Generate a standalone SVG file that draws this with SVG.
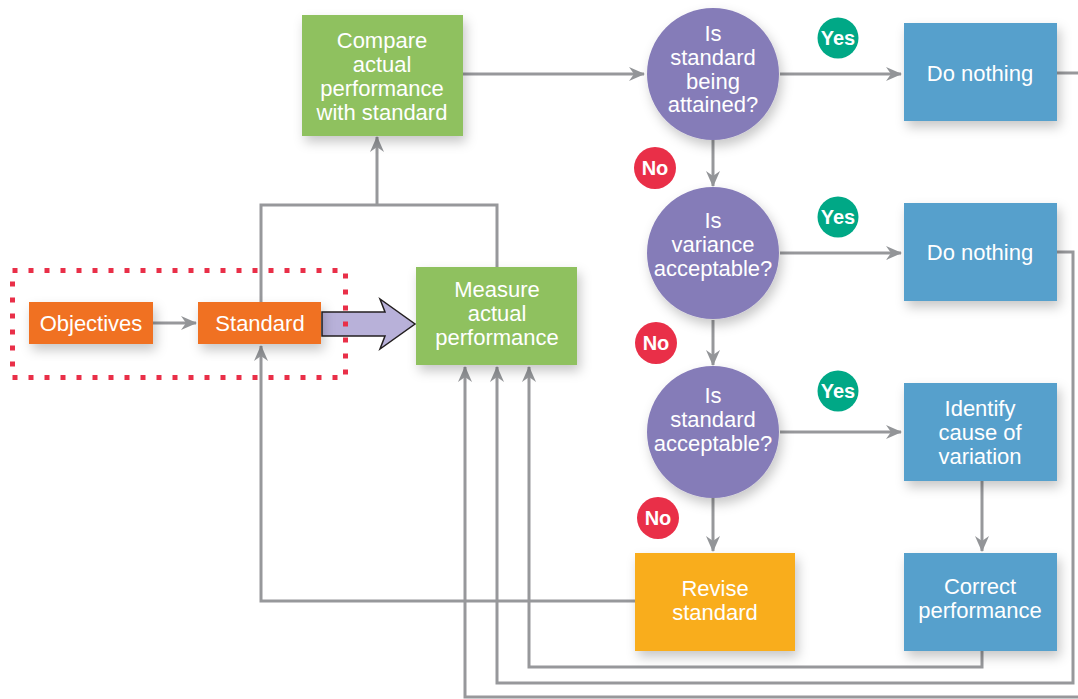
<svg xmlns="http://www.w3.org/2000/svg" width="1078" height="699" viewBox="0 0 1078 699">
<defs>
<filter id="sh" x="-20%" y="-20%" width="150%" height="160%">
<feDropShadow dx="3" dy="6" stdDeviation="6" flood-color="#000" flood-opacity="0.22"/>
</filter>
<marker id="ah" markerUnits="userSpaceOnUse" markerWidth="16" markerHeight="14" refX="15" refY="7" orient="auto">
<path d="M0,0 L16,7 L0,14 L5,7 z" fill="#939598"/>
</marker>
<style>
.ln{fill:none;stroke:#97989b;stroke-width:3}
.t{font-family:"Liberation Sans",Arial,sans-serif;font-size:22px;fill:#fff;text-anchor:middle}
.b{font-family:"Liberation Sans",Arial,sans-serif;font-size:20px;font-weight:bold;fill:#fff;text-anchor:middle}
.org{fill:#f07124}
.grn{fill:#8fc15e}
.blu{fill:#57a0cc}
.pur{fill:#857bb8}
.yel{fill:#f9ad1e}
.yes{fill:#00a886}
.no{fill:#e92f48}
</style>
</defs>
<rect width="1078" height="699" fill="#fff"/>
<g id="connectors">
<polyline class="ln" points="261,302 261,205 497,205 497,267"/>
<line class="ln" x1="377" y1="205" x2="377" y2="137" marker-end="url(#ah)"/>
<line class="ln" x1="153" y1="323" x2="196" y2="323" marker-end="url(#ah)"/>
<line class="ln" x1="463" y1="74" x2="644" y2="74" marker-end="url(#ah)"/>
<line class="ln" x1="780" y1="74" x2="901" y2="74" marker-end="url(#ah)"/>
<line class="ln" x1="780" y1="253" x2="901" y2="253" marker-end="url(#ah)"/>
<line class="ln" x1="780" y1="432" x2="901" y2="432" marker-end="url(#ah)"/>
<line class="ln" x1="713" y1="140" x2="713" y2="186" marker-end="url(#ah)"/>
<line class="ln" x1="713" y1="320" x2="713" y2="365" marker-end="url(#ah)"/>
<line class="ln" x1="713" y1="498" x2="713" y2="551" marker-end="url(#ah)"/>
<line class="ln" x1="982" y1="481" x2="982" y2="551" marker-end="url(#ah)"/>
<polyline class="ln" points="635,601 261,601 261,346" marker-end="url(#ah)"/>
<line class="ln" x1="1057" y1="73" x2="1080" y2="73"/>
<polyline class="ln" points="1080,697 465,697 465,367" marker-end="url(#ah)"/>
<polyline class="ln" points="1057,252 1073,252 1073,683 497,683 497,367" marker-end="url(#ah)"/>
<polyline class="ln" points="982,651 982,667 529,667 529,367" marker-end="url(#ah)"/>
<polygon points="322,312 385,312 380,299 415,324 380,349 385,336 322,336" fill="#b8b1d9" stroke="#231f20" stroke-width="1.5" stroke-linejoin="miter"/>
</g>
<g id="group-box">
<rect x="12.5" y="270.5" width="333" height="107" fill="none" stroke="#e92f48" stroke-width="5" stroke-dasharray="5 11"/>
</g>
<g id="objectives">
<rect x="29" y="302" width="124" height="42" class="org" filter="url(#sh)"/>
<text class="t" x="91" y="331">Objectives</text>
</g>
<g id="standard">
<rect x="198" y="302" width="123" height="42" class="org" filter="url(#sh)"/>
<text class="t" x="260" y="331">Standard</text>
</g>
<g id="measure">
<rect x="416" y="267" width="161" height="98" class="grn" filter="url(#sh)"/>
<text class="t" x="497" y="297">Measure</text>
<text class="t" x="497" y="321">actual</text>
<text class="t" x="497" y="345">performance</text>
</g>
<g id="compare">
<rect x="302" y="15" width="161" height="121" class="grn" filter="url(#sh)"/>
<text class="t" x="382" y="48">Compare</text>
<text class="t" x="382" y="72">actual</text>
<text class="t" x="382" y="96">performance</text>
<text class="t" x="382" y="120">with standard</text>
</g>
<g id="q1">
<circle cx="713" cy="74" r="66" class="pur" filter="url(#sh)"/>
<text class="t" x="713" y="41">Is</text>
<text class="t" x="713" y="65">standard</text>
<text class="t" x="713" y="89">being</text>
<text class="t" x="713" y="112">attained?</text>
</g>
<g id="q2">
<circle cx="713" cy="253" r="66" class="pur" filter="url(#sh)"/>
<text class="t" x="713" y="228">Is</text>
<text class="t" x="713" y="252">variance</text>
<text class="t" x="713" y="276">acceptable?</text>
</g>
<g id="q3">
<circle cx="713" cy="432" r="66" class="pur" filter="url(#sh)"/>
<text class="t" x="713" y="403">Is</text>
<text class="t" x="713" y="427">standard</text>
<text class="t" x="713" y="451">acceptable?</text>
</g>
<g id="do-nothing-1">
<rect x="904" y="23" width="153" height="98" class="blu" filter="url(#sh)"/>
<text class="t" x="980" y="81">Do nothing</text>
</g>
<g id="do-nothing-2">
<rect x="904" y="203" width="153" height="98" class="blu" filter="url(#sh)"/>
<text class="t" x="980" y="260">Do nothing</text>
</g>
<g id="identify">
<rect x="904" y="383" width="153" height="98" class="blu" filter="url(#sh)"/>
<text class="t" x="980" y="416">Identify</text>
<text class="t" x="980" y="440">cause of</text>
<text class="t" x="980" y="464">variation</text>
</g>
<g id="correct">
<rect x="904" y="553" width="153" height="98" class="blu" filter="url(#sh)"/>
<text class="t" x="980" y="594">Correct</text>
<text class="t" x="980" y="618">performance</text>
</g>
<g id="revise">
<rect x="635" y="553" width="160" height="98" class="yel" filter="url(#sh)"/>
<text class="t" x="715" y="596">Revise</text>
<text class="t" x="715" y="620">standard</text>
</g>
<g id="badges">
<circle cx="838" cy="38" r="20.5" class="yes"/>
<text class="b" x="838" y="45">Yes</text>
<circle cx="838" cy="217" r="20.5" class="yes"/>
<text class="b" x="838" y="224">Yes</text>
<circle cx="838" cy="391" r="20.5" class="yes"/>
<text class="b" x="838" y="398">Yes</text>
<circle cx="655" cy="168" r="21" class="no"/>
<text class="b" x="655" y="175">No</text>
<circle cx="656" cy="343" r="21" class="no"/>
<text class="b" x="656" y="350">No</text>
<circle cx="658" cy="518" r="21" class="no"/>
<text class="b" x="658" y="525">No</text>
</g>
</svg>
